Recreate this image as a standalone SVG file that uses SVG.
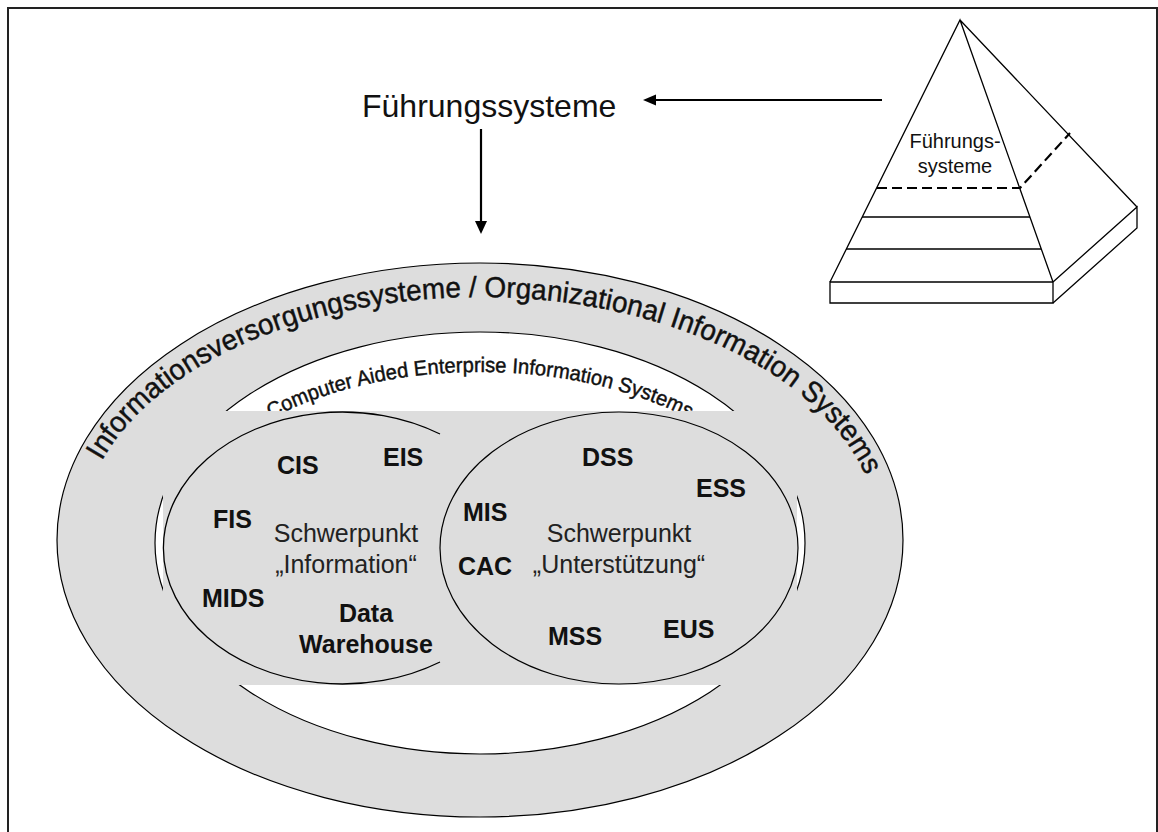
<svg xmlns="http://www.w3.org/2000/svg" width="1158" height="832" viewBox="0 0 1158 832">
<defs>
<style>
.t{font-family:"Liberation Sans",Arial,sans-serif;fill:#111}
.arc{stroke:#111;stroke-width:0.45}
.b{font-family:"Liberation Sans",Arial,sans-serif;font-weight:bold;font-size:25px;fill:#111}
.r{font-family:"Liberation Sans",Arial,sans-serif;font-size:25px;fill:#222}
.ln{stroke:#000;stroke-width:1.3;fill:none}
.dash{stroke:#000;stroke-width:2.2;fill:none;stroke-dasharray:10 5}
</style>
<path id="outerArc" d="M 80,540 A 400,243 0 0 1 880,540"/>
<path id="innerArc" d="M 175,543 A 305,171 0 0 1 785,543"/>
</defs>
<rect width="1158" height="832" fill="#fff"/>
<path d="M8,832 V8 H1157 V832" fill="none" stroke="#222" stroke-width="2"/>

<g id="pyramid">
<path d="M830,282 H1053 V303 H830 Z" fill="#fff" class="ln"/>
<path d="M1053,282 L1137,207 V228 L1053,303" fill="#fff" class="ln"/>
<path d="M830,282 L960,20 L1053,282 M960,20 L1137,207" class="ln"/>
<path d="M862,217 H1030 M846,249 H1041" class="ln"/>
<path d="M877,188 H1020 L1070,133" class="dash"/>
<text class="t" font-size="20" x="955" y="148" text-anchor="middle">Führungs-</text>
<text class="t" font-size="20" x="955" y="173" text-anchor="middle">systeme</text>
</g>

<g id="fuehrung">
<text class="t" font-size="32" x="362" y="117">Führungssysteme</text>
</g>

<g id="connectors">
<path d="M882,100 H655" stroke="#000" stroke-width="2.2"/>
<path d="M643,100 L656,94.5 L656,105.5 Z" fill="#000"/>
<path d="M481,129 V222" stroke="#000" stroke-width="2.2"/>
<path d="M481,234 L475,221 L487,221 Z" fill="#000"/>
</g>

<g id="ois">
<ellipse cx="480" cy="540" rx="423" ry="277" fill="#dddddd" stroke="#000" stroke-width="1.2"/>
<text class="t arc" font-size="29"><textPath href="#outerArc" startOffset="50.8%" text-anchor="middle" textLength="875" lengthAdjust="spacingAndGlyphs">Informationsversorgungssysteme / Organizational Information Systems</textPath></text>
</g>

<g id="caeis">
<ellipse cx="480" cy="543" rx="325" ry="211" fill="#fff" stroke="#000" stroke-width="1.2"/>
<text class="t arc" font-size="21"><textPath href="#innerArc" startOffset="50%" text-anchor="middle" textLength="432" lengthAdjust="spacingAndGlyphs">Computer Aided Enterprise Information Systems</textPath></text>
<rect x="163" y="411" width="634" height="274" fill="#dddddd"/>
</g>

<g id="information">
<path d="M440,434 A179,136 0 1 0 440,662" class="ln" stroke-width="1.2"/>
<text class="b" x="277" y="474">CIS</text>
<text class="b" x="383" y="466">EIS</text>
<text class="b" x="213" y="528">FIS</text>
<text class="b" x="202" y="607">MIDS</text>
<text class="b" x="366" y="622" text-anchor="middle">Data</text>
<text class="b" x="366" y="653" text-anchor="middle">Warehouse</text>
<text class="r" x="346" y="542" text-anchor="middle">Schwerpunkt</text>
<text class="r" x="346" y="573" text-anchor="middle">„Information“</text>
</g>

<g id="unterstuetzung">
<ellipse cx="619" cy="548" rx="179" ry="136" fill="#dddddd" stroke="#000" stroke-width="1.2"/>
<text class="b" x="582" y="466">DSS</text>
<text class="b" x="696" y="497">ESS</text>
<text class="b" x="463" y="521">MIS</text>
<text class="b" x="458" y="575">CAC</text>
<text class="b" x="548" y="645">MSS</text>
<text class="b" x="663" y="638">EUS</text>
<text class="r" x="619" y="542" text-anchor="middle">Schwerpunkt</text>
<text class="r" x="619" y="573" text-anchor="middle">„Unterstützung“</text>
</g>
</svg>
